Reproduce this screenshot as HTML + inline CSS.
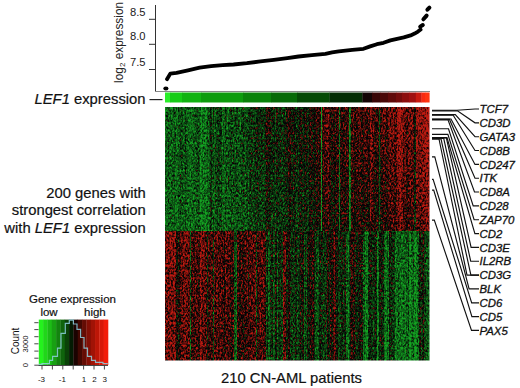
<!DOCTYPE html>
<html><head><meta charset="utf-8"><style>
html,body{margin:0;padding:0;background:#fff;width:520px;height:388px;overflow:hidden}
svg{display:block;font-family:"Liberation Sans",sans-serif}
</style></head><body>
<svg width="520" height="388" viewBox="0 0 520 388">
<defs>
<linearGradient id="gt" gradientUnits="userSpaceOnUse" x1="165" x2="429.5" y1="0" y2="0"><stop offset="0.0000" stop-color="rgb(49,49,0)"/><stop offset="0.0048" stop-color="rgb(49,49,0)"/><stop offset="0.0048" stop-color="rgb(65,65,0)"/><stop offset="0.0095" stop-color="rgb(65,65,0)"/><stop offset="0.0095" stop-color="rgb(72,72,0)"/><stop offset="0.0143" stop-color="rgb(72,72,0)"/><stop offset="0.0143" stop-color="rgb(56,56,0)"/><stop offset="0.0190" stop-color="rgb(56,56,0)"/><stop offset="0.0190" stop-color="rgb(48,48,0)"/><stop offset="0.0238" stop-color="rgb(48,48,0)"/><stop offset="0.0238" stop-color="rgb(61,61,0)"/><stop offset="0.0286" stop-color="rgb(61,61,0)"/><stop offset="0.0286" stop-color="rgb(67,67,0)"/><stop offset="0.0333" stop-color="rgb(67,67,0)"/><stop offset="0.0333" stop-color="rgb(73,73,0)"/><stop offset="0.0381" stop-color="rgb(73,73,0)"/><stop offset="0.0381" stop-color="rgb(50,50,0)"/><stop offset="0.0429" stop-color="rgb(50,50,0)"/><stop offset="0.0429" stop-color="rgb(49,49,0)"/><stop offset="0.0476" stop-color="rgb(49,49,0)"/><stop offset="0.0476" stop-color="rgb(69,69,0)"/><stop offset="0.0524" stop-color="rgb(69,69,0)"/><stop offset="0.0524" stop-color="rgb(67,67,0)"/><stop offset="0.0571" stop-color="rgb(67,67,0)"/><stop offset="0.0571" stop-color="rgb(78,78,0)"/><stop offset="0.0619" stop-color="rgb(78,78,0)"/><stop offset="0.0619" stop-color="rgb(72,72,0)"/><stop offset="0.0667" stop-color="rgb(72,72,0)"/><stop offset="0.0667" stop-color="rgb(61,61,0)"/><stop offset="0.0714" stop-color="rgb(61,61,0)"/><stop offset="0.0714" stop-color="rgb(60,60,0)"/><stop offset="0.0762" stop-color="rgb(60,60,0)"/><stop offset="0.0762" stop-color="rgb(89,89,0)"/><stop offset="0.0810" stop-color="rgb(89,89,0)"/><stop offset="0.0810" stop-color="rgb(60,60,0)"/><stop offset="0.0857" stop-color="rgb(60,60,0)"/><stop offset="0.0857" stop-color="rgb(55,55,0)"/><stop offset="0.0905" stop-color="rgb(55,55,0)"/><stop offset="0.0905" stop-color="rgb(51,51,0)"/><stop offset="0.1000" stop-color="rgb(51,51,0)"/><stop offset="0.1000" stop-color="rgb(52,52,0)"/><stop offset="0.1048" stop-color="rgb(52,52,0)"/><stop offset="0.1048" stop-color="rgb(60,60,0)"/><stop offset="0.1095" stop-color="rgb(60,60,0)"/><stop offset="0.1095" stop-color="rgb(63,63,0)"/><stop offset="0.1143" stop-color="rgb(63,63,0)"/><stop offset="0.1143" stop-color="rgb(66,66,0)"/><stop offset="0.1190" stop-color="rgb(66,66,0)"/><stop offset="0.1190" stop-color="rgb(71,71,0)"/><stop offset="0.1238" stop-color="rgb(71,71,0)"/><stop offset="0.1238" stop-color="rgb(75,75,0)"/><stop offset="0.1286" stop-color="rgb(75,75,0)"/><stop offset="0.1286" stop-color="rgb(66,66,0)"/><stop offset="0.1333" stop-color="rgb(66,66,0)"/><stop offset="0.1333" stop-color="rgb(33,33,0)"/><stop offset="0.1381" stop-color="rgb(33,33,0)"/><stop offset="0.1381" stop-color="rgb(59,59,0)"/><stop offset="0.1429" stop-color="rgb(59,59,0)"/><stop offset="0.1429" stop-color="rgb(37,37,0)"/><stop offset="0.1476" stop-color="rgb(37,37,0)"/><stop offset="0.1476" stop-color="rgb(50,50,0)"/><stop offset="0.1524" stop-color="rgb(50,50,0)"/><stop offset="0.1524" stop-color="rgb(37,37,0)"/><stop offset="0.1571" stop-color="rgb(37,37,0)"/><stop offset="0.1571" stop-color="rgb(65,65,0)"/><stop offset="0.1619" stop-color="rgb(65,65,0)"/><stop offset="0.1619" stop-color="rgb(58,58,0)"/><stop offset="0.1667" stop-color="rgb(58,58,0)"/><stop offset="0.1667" stop-color="rgb(68,68,0)"/><stop offset="0.1714" stop-color="rgb(68,68,0)"/><stop offset="0.1714" stop-color="rgb(100,100,0)"/><stop offset="0.1762" stop-color="rgb(100,100,0)"/><stop offset="0.1762" stop-color="rgb(66,66,0)"/><stop offset="0.1810" stop-color="rgb(66,66,0)"/><stop offset="0.1810" stop-color="rgb(75,75,0)"/><stop offset="0.1857" stop-color="rgb(75,75,0)"/><stop offset="0.1857" stop-color="rgb(54,54,0)"/><stop offset="0.1905" stop-color="rgb(54,54,0)"/><stop offset="0.1905" stop-color="rgb(84,84,0)"/><stop offset="0.1952" stop-color="rgb(84,84,0)"/><stop offset="0.1952" stop-color="rgb(93,93,0)"/><stop offset="0.2000" stop-color="rgb(93,93,0)"/><stop offset="0.2000" stop-color="rgb(86,86,0)"/><stop offset="0.2048" stop-color="rgb(86,86,0)"/><stop offset="0.2048" stop-color="rgb(91,91,0)"/><stop offset="0.2095" stop-color="rgb(91,91,0)"/><stop offset="0.2095" stop-color="rgb(89,89,0)"/><stop offset="0.2143" stop-color="rgb(89,89,0)"/><stop offset="0.2143" stop-color="rgb(48,48,0)"/><stop offset="0.2190" stop-color="rgb(48,48,0)"/><stop offset="0.2190" stop-color="rgb(65,65,0)"/><stop offset="0.2238" stop-color="rgb(65,65,0)"/><stop offset="0.2238" stop-color="rgb(51,51,0)"/><stop offset="0.2286" stop-color="rgb(51,51,0)"/><stop offset="0.2286" stop-color="rgb(78,78,0)"/><stop offset="0.2333" stop-color="rgb(78,78,0)"/><stop offset="0.2333" stop-color="rgb(54,54,0)"/><stop offset="0.2381" stop-color="rgb(54,54,0)"/><stop offset="0.2381" stop-color="rgb(77,77,0)"/><stop offset="0.2429" stop-color="rgb(77,77,0)"/><stop offset="0.2429" stop-color="rgb(70,70,0)"/><stop offset="0.2476" stop-color="rgb(70,70,0)"/><stop offset="0.2476" stop-color="rgb(80,80,0)"/><stop offset="0.2524" stop-color="rgb(80,80,0)"/><stop offset="0.2524" stop-color="rgb(65,65,0)"/><stop offset="0.2571" stop-color="rgb(65,65,0)"/><stop offset="0.2571" stop-color="rgb(81,81,0)"/><stop offset="0.2619" stop-color="rgb(81,81,0)"/><stop offset="0.2619" stop-color="rgb(70,70,0)"/><stop offset="0.2667" stop-color="rgb(70,70,0)"/><stop offset="0.2667" stop-color="rgb(85,85,0)"/><stop offset="0.2714" stop-color="rgb(85,85,0)"/><stop offset="0.2714" stop-color="rgb(78,78,0)"/><stop offset="0.2762" stop-color="rgb(78,78,0)"/><stop offset="0.2762" stop-color="rgb(74,74,0)"/><stop offset="0.2810" stop-color="rgb(74,74,0)"/><stop offset="0.2810" stop-color="rgb(65,65,0)"/><stop offset="0.2857" stop-color="rgb(65,65,0)"/><stop offset="0.2857" stop-color="rgb(81,81,0)"/><stop offset="0.2905" stop-color="rgb(81,81,0)"/><stop offset="0.2905" stop-color="rgb(79,79,0)"/><stop offset="0.2952" stop-color="rgb(79,79,0)"/><stop offset="0.2952" stop-color="rgb(92,92,0)"/><stop offset="0.3000" stop-color="rgb(92,92,0)"/><stop offset="0.3000" stop-color="rgb(72,72,0)"/><stop offset="0.3048" stop-color="rgb(72,72,0)"/><stop offset="0.3048" stop-color="rgb(83,83,0)"/><stop offset="0.3143" stop-color="rgb(83,83,0)"/><stop offset="0.3143" stop-color="rgb(82,82,0)"/><stop offset="0.3190" stop-color="rgb(82,82,0)"/><stop offset="0.3190" stop-color="rgb(97,97,0)"/><stop offset="0.3238" stop-color="rgb(97,97,0)"/><stop offset="0.3238" stop-color="rgb(98,98,0)"/><stop offset="0.3286" stop-color="rgb(98,98,0)"/><stop offset="0.3286" stop-color="rgb(91,91,0)"/><stop offset="0.3333" stop-color="rgb(91,91,0)"/><stop offset="0.3333" stop-color="rgb(87,87,0)"/><stop offset="0.3381" stop-color="rgb(87,87,0)"/><stop offset="0.3381" stop-color="rgb(94,94,0)"/><stop offset="0.3429" stop-color="rgb(94,94,0)"/><stop offset="0.3429" stop-color="rgb(105,105,0)"/><stop offset="0.3476" stop-color="rgb(105,105,0)"/><stop offset="0.3476" stop-color="rgb(116,116,0)"/><stop offset="0.3524" stop-color="rgb(116,116,0)"/><stop offset="0.3524" stop-color="rgb(96,96,0)"/><stop offset="0.3571" stop-color="rgb(96,96,0)"/><stop offset="0.3571" stop-color="rgb(98,98,0)"/><stop offset="0.3619" stop-color="rgb(98,98,0)"/><stop offset="0.3619" stop-color="rgb(96,96,0)"/><stop offset="0.3714" stop-color="rgb(96,96,0)"/><stop offset="0.3714" stop-color="rgb(91,91,0)"/><stop offset="0.3762" stop-color="rgb(91,91,0)"/><stop offset="0.3762" stop-color="rgb(98,98,0)"/><stop offset="0.3810" stop-color="rgb(98,98,0)"/><stop offset="0.3810" stop-color="rgb(147,147,0)"/><stop offset="0.3857" stop-color="rgb(147,147,0)"/><stop offset="0.3857" stop-color="rgb(127,127,0)"/><stop offset="0.3905" stop-color="rgb(127,127,0)"/><stop offset="0.3905" stop-color="rgb(124,124,0)"/><stop offset="0.3952" stop-color="rgb(124,124,0)"/><stop offset="0.3952" stop-color="rgb(114,114,0)"/><stop offset="0.4000" stop-color="rgb(114,114,0)"/><stop offset="0.4000" stop-color="rgb(97,97,0)"/><stop offset="0.4048" stop-color="rgb(97,97,0)"/><stop offset="0.4048" stop-color="rgb(105,105,0)"/><stop offset="0.4143" stop-color="rgb(105,105,0)"/><stop offset="0.4143" stop-color="rgb(85,85,0)"/><stop offset="0.4190" stop-color="rgb(85,85,0)"/><stop offset="0.4190" stop-color="rgb(123,123,0)"/><stop offset="0.4238" stop-color="rgb(123,123,0)"/><stop offset="0.4238" stop-color="rgb(117,117,0)"/><stop offset="0.4286" stop-color="rgb(117,117,0)"/><stop offset="0.4286" stop-color="rgb(101,101,0)"/><stop offset="0.4333" stop-color="rgb(101,101,0)"/><stop offset="0.4333" stop-color="rgb(108,108,0)"/><stop offset="0.4381" stop-color="rgb(108,108,0)"/><stop offset="0.4381" stop-color="rgb(103,103,0)"/><stop offset="0.4429" stop-color="rgb(103,103,0)"/><stop offset="0.4429" stop-color="rgb(93,93,0)"/><stop offset="0.4476" stop-color="rgb(93,93,0)"/><stop offset="0.4476" stop-color="rgb(102,102,0)"/><stop offset="0.4524" stop-color="rgb(102,102,0)"/><stop offset="0.4524" stop-color="rgb(108,108,0)"/><stop offset="0.4571" stop-color="rgb(108,108,0)"/><stop offset="0.4571" stop-color="rgb(116,116,0)"/><stop offset="0.4619" stop-color="rgb(116,116,0)"/><stop offset="0.4619" stop-color="rgb(113,113,0)"/><stop offset="0.4667" stop-color="rgb(113,113,0)"/><stop offset="0.4667" stop-color="rgb(139,139,0)"/><stop offset="0.4714" stop-color="rgb(139,139,0)"/><stop offset="0.4714" stop-color="rgb(153,153,0)"/><stop offset="0.4762" stop-color="rgb(153,153,0)"/><stop offset="0.4762" stop-color="rgb(101,101,0)"/><stop offset="0.4810" stop-color="rgb(101,101,0)"/><stop offset="0.4810" stop-color="rgb(118,118,0)"/><stop offset="0.4857" stop-color="rgb(118,118,0)"/><stop offset="0.4857" stop-color="rgb(122,122,0)"/><stop offset="0.4905" stop-color="rgb(122,122,0)"/><stop offset="0.4905" stop-color="rgb(109,109,0)"/><stop offset="0.4952" stop-color="rgb(109,109,0)"/><stop offset="0.4952" stop-color="rgb(94,94,0)"/><stop offset="0.5000" stop-color="rgb(94,94,0)"/><stop offset="0.5000" stop-color="rgb(105,105,0)"/><stop offset="0.5048" stop-color="rgb(105,105,0)"/><stop offset="0.5048" stop-color="rgb(117,117,0)"/><stop offset="0.5095" stop-color="rgb(117,117,0)"/><stop offset="0.5095" stop-color="rgb(121,121,0)"/><stop offset="0.5143" stop-color="rgb(121,121,0)"/><stop offset="0.5143" stop-color="rgb(133,133,0)"/><stop offset="0.5190" stop-color="rgb(133,133,0)"/><stop offset="0.5190" stop-color="rgb(108,108,0)"/><stop offset="0.5238" stop-color="rgb(108,108,0)"/><stop offset="0.5238" stop-color="rgb(119,119,0)"/><stop offset="0.5286" stop-color="rgb(119,119,0)"/><stop offset="0.5286" stop-color="rgb(127,127,0)"/><stop offset="0.5333" stop-color="rgb(127,127,0)"/><stop offset="0.5333" stop-color="rgb(120,120,0)"/><stop offset="0.5381" stop-color="rgb(120,120,0)"/><stop offset="0.5381" stop-color="rgb(99,99,0)"/><stop offset="0.5429" stop-color="rgb(99,99,0)"/><stop offset="0.5429" stop-color="rgb(133,133,0)"/><stop offset="0.5476" stop-color="rgb(133,133,0)"/><stop offset="0.5476" stop-color="rgb(150,150,0)"/><stop offset="0.5524" stop-color="rgb(150,150,0)"/><stop offset="0.5524" stop-color="rgb(138,138,0)"/><stop offset="0.5571" stop-color="rgb(138,138,0)"/><stop offset="0.5571" stop-color="rgb(120,120,0)"/><stop offset="0.5619" stop-color="rgb(120,120,0)"/><stop offset="0.5619" stop-color="rgb(127,127,0)"/><stop offset="0.5667" stop-color="rgb(127,127,0)"/><stop offset="0.5667" stop-color="rgb(135,135,0)"/><stop offset="0.5714" stop-color="rgb(135,135,0)"/><stop offset="0.5714" stop-color="rgb(159,159,0)"/><stop offset="0.5762" stop-color="rgb(159,159,0)"/><stop offset="0.5762" stop-color="rgb(142,142,0)"/><stop offset="0.5810" stop-color="rgb(142,142,0)"/><stop offset="0.5810" stop-color="rgb(138,138,0)"/><stop offset="0.5857" stop-color="rgb(138,138,0)"/><stop offset="0.5857" stop-color="rgb(154,154,0)"/><stop offset="0.5905" stop-color="rgb(154,154,0)"/><stop offset="0.5905" stop-color="rgb(11,11,0)"/><stop offset="0.5952" stop-color="rgb(11,11,0)"/><stop offset="0.5952" stop-color="rgb(159,159,0)"/><stop offset="0.6048" stop-color="rgb(159,159,0)"/><stop offset="0.6048" stop-color="rgb(162,162,0)"/><stop offset="0.6095" stop-color="rgb(162,162,0)"/><stop offset="0.6095" stop-color="rgb(175,175,0)"/><stop offset="0.6143" stop-color="rgb(175,175,0)"/><stop offset="0.6143" stop-color="rgb(183,183,0)"/><stop offset="0.6190" stop-color="rgb(183,183,0)"/><stop offset="0.6190" stop-color="rgb(150,150,0)"/><stop offset="0.6238" stop-color="rgb(150,150,0)"/><stop offset="0.6238" stop-color="rgb(148,148,0)"/><stop offset="0.6286" stop-color="rgb(148,148,0)"/><stop offset="0.6286" stop-color="rgb(127,127,0)"/><stop offset="0.6333" stop-color="rgb(127,127,0)"/><stop offset="0.6333" stop-color="rgb(139,139,0)"/><stop offset="0.6381" stop-color="rgb(139,139,0)"/><stop offset="0.6381" stop-color="rgb(141,141,0)"/><stop offset="0.6429" stop-color="rgb(141,141,0)"/><stop offset="0.6429" stop-color="rgb(142,142,0)"/><stop offset="0.6476" stop-color="rgb(142,142,0)"/><stop offset="0.6476" stop-color="rgb(154,154,0)"/><stop offset="0.6524" stop-color="rgb(154,154,0)"/><stop offset="0.6524" stop-color="rgb(146,146,0)"/><stop offset="0.6571" stop-color="rgb(146,146,0)"/><stop offset="0.6571" stop-color="rgb(47,47,0)"/><stop offset="0.6619" stop-color="rgb(47,47,0)"/><stop offset="0.6619" stop-color="rgb(151,151,0)"/><stop offset="0.6667" stop-color="rgb(151,151,0)"/><stop offset="0.6667" stop-color="rgb(148,148,0)"/><stop offset="0.6714" stop-color="rgb(148,148,0)"/><stop offset="0.6714" stop-color="rgb(153,153,0)"/><stop offset="0.6762" stop-color="rgb(153,153,0)"/><stop offset="0.6762" stop-color="rgb(156,156,0)"/><stop offset="0.6810" stop-color="rgb(156,156,0)"/><stop offset="0.6810" stop-color="rgb(161,161,0)"/><stop offset="0.6857" stop-color="rgb(161,161,0)"/><stop offset="0.6857" stop-color="rgb(148,148,0)"/><stop offset="0.6905" stop-color="rgb(148,148,0)"/><stop offset="0.6905" stop-color="rgb(151,151,0)"/><stop offset="0.6952" stop-color="rgb(151,151,0)"/><stop offset="0.6952" stop-color="rgb(28,28,0)"/><stop offset="0.7000" stop-color="rgb(28,28,0)"/><stop offset="0.7000" stop-color="rgb(59,59,0)"/><stop offset="0.7048" stop-color="rgb(59,59,0)"/><stop offset="0.7048" stop-color="rgb(169,169,0)"/><stop offset="0.7095" stop-color="rgb(169,169,0)"/><stop offset="0.7095" stop-color="rgb(153,153,0)"/><stop offset="0.7143" stop-color="rgb(153,153,0)"/><stop offset="0.7143" stop-color="rgb(150,150,0)"/><stop offset="0.7190" stop-color="rgb(150,150,0)"/><stop offset="0.7190" stop-color="rgb(143,143,0)"/><stop offset="0.7238" stop-color="rgb(143,143,0)"/><stop offset="0.7238" stop-color="rgb(157,157,0)"/><stop offset="0.7286" stop-color="rgb(157,157,0)"/><stop offset="0.7286" stop-color="rgb(158,158,0)"/><stop offset="0.7333" stop-color="rgb(158,158,0)"/><stop offset="0.7333" stop-color="rgb(179,179,0)"/><stop offset="0.7381" stop-color="rgb(179,179,0)"/><stop offset="0.7381" stop-color="rgb(159,159,0)"/><stop offset="0.7429" stop-color="rgb(159,159,0)"/><stop offset="0.7429" stop-color="rgb(149,149,0)"/><stop offset="0.7476" stop-color="rgb(149,149,0)"/><stop offset="0.7476" stop-color="rgb(132,132,0)"/><stop offset="0.7524" stop-color="rgb(132,132,0)"/><stop offset="0.7524" stop-color="rgb(172,172,0)"/><stop offset="0.7571" stop-color="rgb(172,172,0)"/><stop offset="0.7571" stop-color="rgb(160,160,0)"/><stop offset="0.7619" stop-color="rgb(160,160,0)"/><stop offset="0.7619" stop-color="rgb(142,142,0)"/><stop offset="0.7667" stop-color="rgb(142,142,0)"/><stop offset="0.7667" stop-color="rgb(161,161,0)"/><stop offset="0.7714" stop-color="rgb(161,161,0)"/><stop offset="0.7714" stop-color="rgb(143,143,0)"/><stop offset="0.7762" stop-color="rgb(143,143,0)"/><stop offset="0.7762" stop-color="rgb(195,195,0)"/><stop offset="0.7810" stop-color="rgb(195,195,0)"/><stop offset="0.7810" stop-color="rgb(172,172,0)"/><stop offset="0.7857" stop-color="rgb(172,172,0)"/><stop offset="0.7857" stop-color="rgb(167,167,0)"/><stop offset="0.7905" stop-color="rgb(167,167,0)"/><stop offset="0.7905" stop-color="rgb(160,160,0)"/><stop offset="0.7952" stop-color="rgb(160,160,0)"/><stop offset="0.7952" stop-color="rgb(140,140,0)"/><stop offset="0.8000" stop-color="rgb(140,140,0)"/><stop offset="0.8000" stop-color="rgb(161,161,0)"/><stop offset="0.8048" stop-color="rgb(161,161,0)"/><stop offset="0.8048" stop-color="rgb(147,147,0)"/><stop offset="0.8095" stop-color="rgb(147,147,0)"/><stop offset="0.8095" stop-color="rgb(74,74,0)"/><stop offset="0.8143" stop-color="rgb(74,74,0)"/><stop offset="0.8143" stop-color="rgb(142,142,0)"/><stop offset="0.8190" stop-color="rgb(142,142,0)"/><stop offset="0.8190" stop-color="rgb(156,156,0)"/><stop offset="0.8238" stop-color="rgb(156,156,0)"/><stop offset="0.8238" stop-color="rgb(178,178,0)"/><stop offset="0.8286" stop-color="rgb(178,178,0)"/><stop offset="0.8286" stop-color="rgb(183,183,0)"/><stop offset="0.8333" stop-color="rgb(183,183,0)"/><stop offset="0.8333" stop-color="rgb(154,154,0)"/><stop offset="0.8381" stop-color="rgb(154,154,0)"/><stop offset="0.8381" stop-color="rgb(151,151,0)"/><stop offset="0.8429" stop-color="rgb(151,151,0)"/><stop offset="0.8429" stop-color="rgb(177,177,0)"/><stop offset="0.8476" stop-color="rgb(177,177,0)"/><stop offset="0.8476" stop-color="rgb(196,196,0)"/><stop offset="0.8524" stop-color="rgb(196,196,0)"/><stop offset="0.8524" stop-color="rgb(179,179,0)"/><stop offset="0.8571" stop-color="rgb(179,179,0)"/><stop offset="0.8571" stop-color="rgb(184,184,0)"/><stop offset="0.8619" stop-color="rgb(184,184,0)"/><stop offset="0.8619" stop-color="rgb(186,186,0)"/><stop offset="0.8667" stop-color="rgb(186,186,0)"/><stop offset="0.8667" stop-color="rgb(164,164,0)"/><stop offset="0.8714" stop-color="rgb(164,164,0)"/><stop offset="0.8714" stop-color="rgb(172,172,0)"/><stop offset="0.8762" stop-color="rgb(172,172,0)"/><stop offset="0.8762" stop-color="rgb(219,219,0)"/><stop offset="0.8810" stop-color="rgb(219,219,0)"/><stop offset="0.8810" stop-color="rgb(215,215,0)"/><stop offset="0.8857" stop-color="rgb(215,215,0)"/><stop offset="0.8857" stop-color="rgb(231,231,0)"/><stop offset="0.8905" stop-color="rgb(231,231,0)"/><stop offset="0.8905" stop-color="rgb(211,211,0)"/><stop offset="0.9000" stop-color="rgb(211,211,0)"/><stop offset="0.9000" stop-color="rgb(178,178,0)"/><stop offset="0.9048" stop-color="rgb(178,178,0)"/><stop offset="0.9048" stop-color="rgb(188,188,0)"/><stop offset="0.9095" stop-color="rgb(188,188,0)"/><stop offset="0.9095" stop-color="rgb(158,158,0)"/><stop offset="0.9143" stop-color="rgb(158,158,0)"/><stop offset="0.9143" stop-color="rgb(155,155,0)"/><stop offset="0.9190" stop-color="rgb(155,155,0)"/><stop offset="0.9190" stop-color="rgb(181,181,0)"/><stop offset="0.9238" stop-color="rgb(181,181,0)"/><stop offset="0.9238" stop-color="rgb(190,190,0)"/><stop offset="0.9286" stop-color="rgb(190,190,0)"/><stop offset="0.9286" stop-color="rgb(185,185,0)"/><stop offset="0.9333" stop-color="rgb(185,185,0)"/><stop offset="0.9333" stop-color="rgb(191,191,0)"/><stop offset="0.9381" stop-color="rgb(191,191,0)"/><stop offset="0.9381" stop-color="rgb(181,181,0)"/><stop offset="0.9429" stop-color="rgb(181,181,0)"/><stop offset="0.9429" stop-color="rgb(113,113,0)"/><stop offset="0.9476" stop-color="rgb(113,113,0)"/><stop offset="0.9476" stop-color="rgb(214,214,0)"/><stop offset="0.9524" stop-color="rgb(214,214,0)"/><stop offset="0.9524" stop-color="rgb(211,211,0)"/><stop offset="0.9571" stop-color="rgb(211,211,0)"/><stop offset="0.9571" stop-color="rgb(204,204,0)"/><stop offset="0.9619" stop-color="rgb(204,204,0)"/><stop offset="0.9619" stop-color="rgb(200,200,0)"/><stop offset="0.9667" stop-color="rgb(200,200,0)"/><stop offset="0.9667" stop-color="rgb(203,203,0)"/><stop offset="0.9714" stop-color="rgb(203,203,0)"/><stop offset="0.9714" stop-color="rgb(219,219,0)"/><stop offset="0.9762" stop-color="rgb(219,219,0)"/><stop offset="0.9762" stop-color="rgb(222,222,0)"/><stop offset="0.9810" stop-color="rgb(222,222,0)"/><stop offset="0.9810" stop-color="rgb(217,217,0)"/><stop offset="0.9857" stop-color="rgb(217,217,0)"/><stop offset="0.9857" stop-color="rgb(238,238,0)"/><stop offset="0.9905" stop-color="rgb(238,238,0)"/><stop offset="0.9905" stop-color="rgb(227,227,0)"/><stop offset="0.9952" stop-color="rgb(227,227,0)"/><stop offset="0.9952" stop-color="rgb(232,232,0)"/><stop offset="1" stop-color="rgb(232,232,0)"/></linearGradient>
<linearGradient id="gb" gradientUnits="userSpaceOnUse" x1="165" x2="429.5" y1="0" y2="0"><stop offset="0.0000" stop-color="rgb(182,182,0)"/><stop offset="0.0048" stop-color="rgb(182,182,0)"/><stop offset="0.0048" stop-color="rgb(207,207,0)"/><stop offset="0.0095" stop-color="rgb(207,207,0)"/><stop offset="0.0095" stop-color="rgb(199,199,0)"/><stop offset="0.0143" stop-color="rgb(199,199,0)"/><stop offset="0.0143" stop-color="rgb(196,196,0)"/><stop offset="0.0190" stop-color="rgb(196,196,0)"/><stop offset="0.0190" stop-color="rgb(218,218,0)"/><stop offset="0.0238" stop-color="rgb(218,218,0)"/><stop offset="0.0238" stop-color="rgb(203,203,0)"/><stop offset="0.0286" stop-color="rgb(203,203,0)"/><stop offset="0.0286" stop-color="rgb(198,198,0)"/><stop offset="0.0333" stop-color="rgb(198,198,0)"/><stop offset="0.0333" stop-color="rgb(230,230,0)"/><stop offset="0.0381" stop-color="rgb(230,230,0)"/><stop offset="0.0381" stop-color="rgb(194,194,0)"/><stop offset="0.0429" stop-color="rgb(194,194,0)"/><stop offset="0.0429" stop-color="rgb(131,131,0)"/><stop offset="0.0476" stop-color="rgb(131,131,0)"/><stop offset="0.0476" stop-color="rgb(129,129,0)"/><stop offset="0.0524" stop-color="rgb(129,129,0)"/><stop offset="0.0524" stop-color="rgb(142,142,0)"/><stop offset="0.0571" stop-color="rgb(142,142,0)"/><stop offset="0.0571" stop-color="rgb(160,160,0)"/><stop offset="0.0619" stop-color="rgb(160,160,0)"/><stop offset="0.0619" stop-color="rgb(188,188,0)"/><stop offset="0.0667" stop-color="rgb(188,188,0)"/><stop offset="0.0667" stop-color="rgb(192,192,0)"/><stop offset="0.0714" stop-color="rgb(192,192,0)"/><stop offset="0.0714" stop-color="rgb(203,203,0)"/><stop offset="0.0762" stop-color="rgb(203,203,0)"/><stop offset="0.0762" stop-color="rgb(200,200,0)"/><stop offset="0.0810" stop-color="rgb(200,200,0)"/><stop offset="0.0810" stop-color="rgb(184,184,0)"/><stop offset="0.0857" stop-color="rgb(184,184,0)"/><stop offset="0.0857" stop-color="rgb(194,194,0)"/><stop offset="0.0905" stop-color="rgb(194,194,0)"/><stop offset="0.0905" stop-color="rgb(184,184,0)"/><stop offset="0.0952" stop-color="rgb(184,184,0)"/><stop offset="0.0952" stop-color="rgb(50,50,0)"/><stop offset="0.1000" stop-color="rgb(50,50,0)"/><stop offset="0.1000" stop-color="rgb(173,173,0)"/><stop offset="0.1048" stop-color="rgb(173,173,0)"/><stop offset="0.1048" stop-color="rgb(161,161,0)"/><stop offset="0.1095" stop-color="rgb(161,161,0)"/><stop offset="0.1095" stop-color="rgb(157,157,0)"/><stop offset="0.1143" stop-color="rgb(157,157,0)"/><stop offset="0.1143" stop-color="rgb(191,191,0)"/><stop offset="0.1190" stop-color="rgb(191,191,0)"/><stop offset="0.1190" stop-color="rgb(171,171,0)"/><stop offset="0.1238" stop-color="rgb(171,171,0)"/><stop offset="0.1238" stop-color="rgb(152,152,0)"/><stop offset="0.1286" stop-color="rgb(152,152,0)"/><stop offset="0.1286" stop-color="rgb(158,158,0)"/><stop offset="0.1333" stop-color="rgb(158,158,0)"/><stop offset="0.1333" stop-color="rgb(220,220,0)"/><stop offset="0.1381" stop-color="rgb(220,220,0)"/><stop offset="0.1381" stop-color="rgb(180,180,0)"/><stop offset="0.1429" stop-color="rgb(180,180,0)"/><stop offset="0.1429" stop-color="rgb(195,195,0)"/><stop offset="0.1476" stop-color="rgb(195,195,0)"/><stop offset="0.1476" stop-color="rgb(193,193,0)"/><stop offset="0.1524" stop-color="rgb(193,193,0)"/><stop offset="0.1524" stop-color="rgb(179,179,0)"/><stop offset="0.1571" stop-color="rgb(179,179,0)"/><stop offset="0.1571" stop-color="rgb(101,101,0)"/><stop offset="0.1619" stop-color="rgb(101,101,0)"/><stop offset="0.1619" stop-color="rgb(163,163,0)"/><stop offset="0.1714" stop-color="rgb(163,163,0)"/><stop offset="0.1714" stop-color="rgb(168,168,0)"/><stop offset="0.1762" stop-color="rgb(168,168,0)"/><stop offset="0.1762" stop-color="rgb(165,165,0)"/><stop offset="0.1810" stop-color="rgb(165,165,0)"/><stop offset="0.1810" stop-color="rgb(80,80,0)"/><stop offset="0.1857" stop-color="rgb(80,80,0)"/><stop offset="0.1857" stop-color="rgb(194,194,0)"/><stop offset="0.1905" stop-color="rgb(194,194,0)"/><stop offset="0.1905" stop-color="rgb(169,169,0)"/><stop offset="0.1952" stop-color="rgb(169,169,0)"/><stop offset="0.1952" stop-color="rgb(191,191,0)"/><stop offset="0.2000" stop-color="rgb(191,191,0)"/><stop offset="0.2000" stop-color="rgb(167,167,0)"/><stop offset="0.2048" stop-color="rgb(167,167,0)"/><stop offset="0.2048" stop-color="rgb(171,171,0)"/><stop offset="0.2095" stop-color="rgb(171,171,0)"/><stop offset="0.2095" stop-color="rgb(178,178,0)"/><stop offset="0.2143" stop-color="rgb(178,178,0)"/><stop offset="0.2143" stop-color="rgb(171,171,0)"/><stop offset="0.2190" stop-color="rgb(171,171,0)"/><stop offset="0.2190" stop-color="rgb(162,162,0)"/><stop offset="0.2238" stop-color="rgb(162,162,0)"/><stop offset="0.2238" stop-color="rgb(128,128,0)"/><stop offset="0.2286" stop-color="rgb(128,128,0)"/><stop offset="0.2286" stop-color="rgb(190,190,0)"/><stop offset="0.2333" stop-color="rgb(190,190,0)"/><stop offset="0.2333" stop-color="rgb(164,164,0)"/><stop offset="0.2381" stop-color="rgb(164,164,0)"/><stop offset="0.2381" stop-color="rgb(158,158,0)"/><stop offset="0.2429" stop-color="rgb(158,158,0)"/><stop offset="0.2429" stop-color="rgb(178,178,0)"/><stop offset="0.2476" stop-color="rgb(178,178,0)"/><stop offset="0.2476" stop-color="rgb(158,158,0)"/><stop offset="0.2524" stop-color="rgb(158,158,0)"/><stop offset="0.2524" stop-color="rgb(145,145,0)"/><stop offset="0.2571" stop-color="rgb(145,145,0)"/><stop offset="0.2571" stop-color="rgb(175,175,0)"/><stop offset="0.2619" stop-color="rgb(175,175,0)"/><stop offset="0.2619" stop-color="rgb(65,65,0)"/><stop offset="0.2667" stop-color="rgb(65,65,0)"/><stop offset="0.2667" stop-color="rgb(46,46,0)"/><stop offset="0.2714" stop-color="rgb(46,46,0)"/><stop offset="0.2714" stop-color="rgb(167,167,0)"/><stop offset="0.2762" stop-color="rgb(167,167,0)"/><stop offset="0.2762" stop-color="rgb(160,160,0)"/><stop offset="0.2810" stop-color="rgb(160,160,0)"/><stop offset="0.2810" stop-color="rgb(136,136,0)"/><stop offset="0.2857" stop-color="rgb(136,136,0)"/><stop offset="0.2857" stop-color="rgb(181,181,0)"/><stop offset="0.2905" stop-color="rgb(181,181,0)"/><stop offset="0.2905" stop-color="rgb(157,157,0)"/><stop offset="0.2952" stop-color="rgb(157,157,0)"/><stop offset="0.2952" stop-color="rgb(135,135,0)"/><stop offset="0.3000" stop-color="rgb(135,135,0)"/><stop offset="0.3000" stop-color="rgb(160,160,0)"/><stop offset="0.3048" stop-color="rgb(160,160,0)"/><stop offset="0.3048" stop-color="rgb(154,154,0)"/><stop offset="0.3095" stop-color="rgb(154,154,0)"/><stop offset="0.3095" stop-color="rgb(180,180,0)"/><stop offset="0.3143" stop-color="rgb(180,180,0)"/><stop offset="0.3143" stop-color="rgb(144,144,0)"/><stop offset="0.3190" stop-color="rgb(144,144,0)"/><stop offset="0.3190" stop-color="rgb(180,180,0)"/><stop offset="0.3238" stop-color="rgb(180,180,0)"/><stop offset="0.3238" stop-color="rgb(179,179,0)"/><stop offset="0.3286" stop-color="rgb(179,179,0)"/><stop offset="0.3286" stop-color="rgb(174,174,0)"/><stop offset="0.3333" stop-color="rgb(174,174,0)"/><stop offset="0.3333" stop-color="rgb(173,173,0)"/><stop offset="0.3381" stop-color="rgb(173,173,0)"/><stop offset="0.3381" stop-color="rgb(183,183,0)"/><stop offset="0.3429" stop-color="rgb(183,183,0)"/><stop offset="0.3429" stop-color="rgb(78,78,0)"/><stop offset="0.3476" stop-color="rgb(78,78,0)"/><stop offset="0.3476" stop-color="rgb(165,165,0)"/><stop offset="0.3524" stop-color="rgb(165,165,0)"/><stop offset="0.3524" stop-color="rgb(149,149,0)"/><stop offset="0.3571" stop-color="rgb(149,149,0)"/><stop offset="0.3571" stop-color="rgb(179,179,0)"/><stop offset="0.3619" stop-color="rgb(179,179,0)"/><stop offset="0.3619" stop-color="rgb(177,177,0)"/><stop offset="0.3667" stop-color="rgb(177,177,0)"/><stop offset="0.3667" stop-color="rgb(182,182,0)"/><stop offset="0.3714" stop-color="rgb(182,182,0)"/><stop offset="0.3714" stop-color="rgb(174,174,0)"/><stop offset="0.3762" stop-color="rgb(174,174,0)"/><stop offset="0.3762" stop-color="rgb(157,157,0)"/><stop offset="0.3810" stop-color="rgb(157,157,0)"/><stop offset="0.3810" stop-color="rgb(69,69,0)"/><stop offset="0.3857" stop-color="rgb(69,69,0)"/><stop offset="0.3857" stop-color="rgb(107,107,0)"/><stop offset="0.3905" stop-color="rgb(107,107,0)"/><stop offset="0.3905" stop-color="rgb(57,57,0)"/><stop offset="0.3952" stop-color="rgb(57,57,0)"/><stop offset="0.3952" stop-color="rgb(93,93,0)"/><stop offset="0.4000" stop-color="rgb(93,93,0)"/><stop offset="0.4000" stop-color="rgb(101,101,0)"/><stop offset="0.4048" stop-color="rgb(101,101,0)"/><stop offset="0.4048" stop-color="rgb(109,109,0)"/><stop offset="0.4095" stop-color="rgb(109,109,0)"/><stop offset="0.4095" stop-color="rgb(67,67,0)"/><stop offset="0.4143" stop-color="rgb(67,67,0)"/><stop offset="0.4143" stop-color="rgb(133,133,0)"/><stop offset="0.4190" stop-color="rgb(133,133,0)"/><stop offset="0.4190" stop-color="rgb(121,121,0)"/><stop offset="0.4238" stop-color="rgb(121,121,0)"/><stop offset="0.4238" stop-color="rgb(57,57,0)"/><stop offset="0.4286" stop-color="rgb(57,57,0)"/><stop offset="0.4286" stop-color="rgb(102,102,0)"/><stop offset="0.4333" stop-color="rgb(102,102,0)"/><stop offset="0.4333" stop-color="rgb(90,90,0)"/><stop offset="0.4381" stop-color="rgb(90,90,0)"/><stop offset="0.4381" stop-color="rgb(92,92,0)"/><stop offset="0.4429" stop-color="rgb(92,92,0)"/><stop offset="0.4429" stop-color="rgb(77,77,0)"/><stop offset="0.4476" stop-color="rgb(77,77,0)"/><stop offset="0.4476" stop-color="rgb(187,187,0)"/><stop offset="0.4524" stop-color="rgb(187,187,0)"/><stop offset="0.4524" stop-color="rgb(189,189,0)"/><stop offset="0.4571" stop-color="rgb(189,189,0)"/><stop offset="0.4571" stop-color="rgb(112,112,0)"/><stop offset="0.4619" stop-color="rgb(112,112,0)"/><stop offset="0.4619" stop-color="rgb(97,97,0)"/><stop offset="0.4667" stop-color="rgb(97,97,0)"/><stop offset="0.4667" stop-color="rgb(147,147,0)"/><stop offset="0.4714" stop-color="rgb(147,147,0)"/><stop offset="0.4714" stop-color="rgb(87,87,0)"/><stop offset="0.4762" stop-color="rgb(87,87,0)"/><stop offset="0.4762" stop-color="rgb(90,90,0)"/><stop offset="0.4810" stop-color="rgb(90,90,0)"/><stop offset="0.4810" stop-color="rgb(93,93,0)"/><stop offset="0.4857" stop-color="rgb(93,93,0)"/><stop offset="0.4857" stop-color="rgb(82,82,0)"/><stop offset="0.4905" stop-color="rgb(82,82,0)"/><stop offset="0.4905" stop-color="rgb(118,118,0)"/><stop offset="0.4952" stop-color="rgb(118,118,0)"/><stop offset="0.4952" stop-color="rgb(105,105,0)"/><stop offset="0.5000" stop-color="rgb(105,105,0)"/><stop offset="0.5000" stop-color="rgb(76,76,0)"/><stop offset="0.5048" stop-color="rgb(76,76,0)"/><stop offset="0.5048" stop-color="rgb(98,98,0)"/><stop offset="0.5095" stop-color="rgb(98,98,0)"/><stop offset="0.5095" stop-color="rgb(140,140,0)"/><stop offset="0.5143" stop-color="rgb(140,140,0)"/><stop offset="0.5143" stop-color="rgb(100,100,0)"/><stop offset="0.5190" stop-color="rgb(100,100,0)"/><stop offset="0.5190" stop-color="rgb(125,125,0)"/><stop offset="0.5238" stop-color="rgb(125,125,0)"/><stop offset="0.5238" stop-color="rgb(55,55,0)"/><stop offset="0.5286" stop-color="rgb(55,55,0)"/><stop offset="0.5286" stop-color="rgb(95,95,0)"/><stop offset="0.5333" stop-color="rgb(95,95,0)"/><stop offset="0.5333" stop-color="rgb(65,65,0)"/><stop offset="0.5381" stop-color="rgb(65,65,0)"/><stop offset="0.5381" stop-color="rgb(117,117,0)"/><stop offset="0.5429" stop-color="rgb(117,117,0)"/><stop offset="0.5429" stop-color="rgb(114,114,0)"/><stop offset="0.5476" stop-color="rgb(114,114,0)"/><stop offset="0.5476" stop-color="rgb(153,153,0)"/><stop offset="0.5524" stop-color="rgb(153,153,0)"/><stop offset="0.5524" stop-color="rgb(116,116,0)"/><stop offset="0.5571" stop-color="rgb(116,116,0)"/><stop offset="0.5571" stop-color="rgb(159,159,0)"/><stop offset="0.5619" stop-color="rgb(159,159,0)"/><stop offset="0.5619" stop-color="rgb(99,99,0)"/><stop offset="0.5667" stop-color="rgb(99,99,0)"/><stop offset="0.5667" stop-color="rgb(70,70,0)"/><stop offset="0.5714" stop-color="rgb(70,70,0)"/><stop offset="0.5714" stop-color="rgb(69,69,0)"/><stop offset="0.5762" stop-color="rgb(69,69,0)"/><stop offset="0.5762" stop-color="rgb(62,62,0)"/><stop offset="0.5810" stop-color="rgb(62,62,0)"/><stop offset="0.5810" stop-color="rgb(108,108,0)"/><stop offset="0.5857" stop-color="rgb(108,108,0)"/><stop offset="0.5857" stop-color="rgb(122,122,0)"/><stop offset="0.5905" stop-color="rgb(122,122,0)"/><stop offset="0.5905" stop-color="rgb(102,102,0)"/><stop offset="0.5952" stop-color="rgb(102,102,0)"/><stop offset="0.5952" stop-color="rgb(90,90,0)"/><stop offset="0.6000" stop-color="rgb(90,90,0)"/><stop offset="0.6000" stop-color="rgb(88,88,0)"/><stop offset="0.6048" stop-color="rgb(88,88,0)"/><stop offset="0.6048" stop-color="rgb(91,91,0)"/><stop offset="0.6095" stop-color="rgb(91,91,0)"/><stop offset="0.6095" stop-color="rgb(89,89,0)"/><stop offset="0.6143" stop-color="rgb(89,89,0)"/><stop offset="0.6143" stop-color="rgb(143,143,0)"/><stop offset="0.6190" stop-color="rgb(143,143,0)"/><stop offset="0.6190" stop-color="rgb(98,98,0)"/><stop offset="0.6238" stop-color="rgb(98,98,0)"/><stop offset="0.6238" stop-color="rgb(154,154,0)"/><stop offset="0.6286" stop-color="rgb(154,154,0)"/><stop offset="0.6286" stop-color="rgb(117,117,0)"/><stop offset="0.6333" stop-color="rgb(117,117,0)"/><stop offset="0.6333" stop-color="rgb(161,161,0)"/><stop offset="0.6381" stop-color="rgb(161,161,0)"/><stop offset="0.6381" stop-color="rgb(202,202,0)"/><stop offset="0.6429" stop-color="rgb(202,202,0)"/><stop offset="0.6429" stop-color="rgb(149,149,0)"/><stop offset="0.6476" stop-color="rgb(149,149,0)"/><stop offset="0.6476" stop-color="rgb(111,111,0)"/><stop offset="0.6524" stop-color="rgb(111,111,0)"/><stop offset="0.6524" stop-color="rgb(94,94,0)"/><stop offset="0.6571" stop-color="rgb(94,94,0)"/><stop offset="0.6571" stop-color="rgb(81,81,0)"/><stop offset="0.6619" stop-color="rgb(81,81,0)"/><stop offset="0.6619" stop-color="rgb(91,91,0)"/><stop offset="0.6667" stop-color="rgb(91,91,0)"/><stop offset="0.6667" stop-color="rgb(113,113,0)"/><stop offset="0.6714" stop-color="rgb(113,113,0)"/><stop offset="0.6714" stop-color="rgb(88,88,0)"/><stop offset="0.6762" stop-color="rgb(88,88,0)"/><stop offset="0.6762" stop-color="rgb(99,99,0)"/><stop offset="0.6810" stop-color="rgb(99,99,0)"/><stop offset="0.6810" stop-color="rgb(119,119,0)"/><stop offset="0.6857" stop-color="rgb(119,119,0)"/><stop offset="0.6857" stop-color="rgb(54,54,0)"/><stop offset="0.6905" stop-color="rgb(54,54,0)"/><stop offset="0.6905" stop-color="rgb(35,35,0)"/><stop offset="0.6952" stop-color="rgb(35,35,0)"/><stop offset="0.6952" stop-color="rgb(79,79,0)"/><stop offset="0.7000" stop-color="rgb(79,79,0)"/><stop offset="0.7000" stop-color="rgb(133,133,0)"/><stop offset="0.7048" stop-color="rgb(133,133,0)"/><stop offset="0.7048" stop-color="rgb(153,153,0)"/><stop offset="0.7095" stop-color="rgb(153,153,0)"/><stop offset="0.7095" stop-color="rgb(114,114,0)"/><stop offset="0.7143" stop-color="rgb(114,114,0)"/><stop offset="0.7143" stop-color="rgb(156,156,0)"/><stop offset="0.7190" stop-color="rgb(156,156,0)"/><stop offset="0.7190" stop-color="rgb(109,109,0)"/><stop offset="0.7238" stop-color="rgb(109,109,0)"/><stop offset="0.7238" stop-color="rgb(102,102,0)"/><stop offset="0.7286" stop-color="rgb(102,102,0)"/><stop offset="0.7286" stop-color="rgb(122,122,0)"/><stop offset="0.7333" stop-color="rgb(122,122,0)"/><stop offset="0.7333" stop-color="rgb(123,123,0)"/><stop offset="0.7381" stop-color="rgb(123,123,0)"/><stop offset="0.7381" stop-color="rgb(132,132,0)"/><stop offset="0.7429" stop-color="rgb(132,132,0)"/><stop offset="0.7429" stop-color="rgb(118,118,0)"/><stop offset="0.7476" stop-color="rgb(118,118,0)"/><stop offset="0.7476" stop-color="rgb(53,53,0)"/><stop offset="0.7524" stop-color="rgb(53,53,0)"/><stop offset="0.7524" stop-color="rgb(64,64,0)"/><stop offset="0.7571" stop-color="rgb(64,64,0)"/><stop offset="0.7571" stop-color="rgb(32,32,0)"/><stop offset="0.7619" stop-color="rgb(32,32,0)"/><stop offset="0.7619" stop-color="rgb(20,20,0)"/><stop offset="0.7667" stop-color="rgb(20,20,0)"/><stop offset="0.7667" stop-color="rgb(92,92,0)"/><stop offset="0.7714" stop-color="rgb(92,92,0)"/><stop offset="0.7714" stop-color="rgb(110,110,0)"/><stop offset="0.7810" stop-color="rgb(110,110,0)"/><stop offset="0.7810" stop-color="rgb(91,91,0)"/><stop offset="0.7857" stop-color="rgb(91,91,0)"/><stop offset="0.7857" stop-color="rgb(81,81,0)"/><stop offset="0.7905" stop-color="rgb(81,81,0)"/><stop offset="0.7905" stop-color="rgb(95,95,0)"/><stop offset="0.7952" stop-color="rgb(95,95,0)"/><stop offset="0.7952" stop-color="rgb(109,109,0)"/><stop offset="0.8000" stop-color="rgb(109,109,0)"/><stop offset="0.8000" stop-color="rgb(19,19,0)"/><stop offset="0.8048" stop-color="rgb(19,19,0)"/><stop offset="0.8048" stop-color="rgb(50,50,0)"/><stop offset="0.8095" stop-color="rgb(50,50,0)"/><stop offset="0.8095" stop-color="rgb(109,109,0)"/><stop offset="0.8190" stop-color="rgb(109,109,0)"/><stop offset="0.8190" stop-color="rgb(94,94,0)"/><stop offset="0.8238" stop-color="rgb(94,94,0)"/><stop offset="0.8238" stop-color="rgb(125,125,0)"/><stop offset="0.8286" stop-color="rgb(125,125,0)"/><stop offset="0.8286" stop-color="rgb(52,52,0)"/><stop offset="0.8333" stop-color="rgb(52,52,0)"/><stop offset="0.8333" stop-color="rgb(28,28,0)"/><stop offset="0.8381" stop-color="rgb(28,28,0)"/><stop offset="0.8381" stop-color="rgb(63,63,0)"/><stop offset="0.8429" stop-color="rgb(63,63,0)"/><stop offset="0.8429" stop-color="rgb(43,43,0)"/><stop offset="0.8476" stop-color="rgb(43,43,0)"/><stop offset="0.8476" stop-color="rgb(117,117,0)"/><stop offset="0.8524" stop-color="rgb(117,117,0)"/><stop offset="0.8524" stop-color="rgb(101,101,0)"/><stop offset="0.8571" stop-color="rgb(101,101,0)"/><stop offset="0.8571" stop-color="rgb(86,86,0)"/><stop offset="0.8619" stop-color="rgb(86,86,0)"/><stop offset="0.8619" stop-color="rgb(95,95,0)"/><stop offset="0.8667" stop-color="rgb(95,95,0)"/><stop offset="0.8667" stop-color="rgb(83,83,0)"/><stop offset="0.8714" stop-color="rgb(83,83,0)"/><stop offset="0.8714" stop-color="rgb(37,37,0)"/><stop offset="0.8762" stop-color="rgb(37,37,0)"/><stop offset="0.8762" stop-color="rgb(47,47,0)"/><stop offset="0.8810" stop-color="rgb(47,47,0)"/><stop offset="0.8810" stop-color="rgb(57,57,0)"/><stop offset="0.8857" stop-color="rgb(57,57,0)"/><stop offset="0.8857" stop-color="rgb(43,43,0)"/><stop offset="0.8905" stop-color="rgb(43,43,0)"/><stop offset="0.8905" stop-color="rgb(40,40,0)"/><stop offset="0.8952" stop-color="rgb(40,40,0)"/><stop offset="0.8952" stop-color="rgb(33,33,0)"/><stop offset="0.9000" stop-color="rgb(33,33,0)"/><stop offset="0.9000" stop-color="rgb(50,50,0)"/><stop offset="0.9048" stop-color="rgb(50,50,0)"/><stop offset="0.9048" stop-color="rgb(46,46,0)"/><stop offset="0.9095" stop-color="rgb(46,46,0)"/><stop offset="0.9095" stop-color="rgb(56,56,0)"/><stop offset="0.9143" stop-color="rgb(56,56,0)"/><stop offset="0.9143" stop-color="rgb(47,47,0)"/><stop offset="0.9190" stop-color="rgb(47,47,0)"/><stop offset="0.9190" stop-color="rgb(74,74,0)"/><stop offset="0.9238" stop-color="rgb(74,74,0)"/><stop offset="0.9238" stop-color="rgb(17,17,0)"/><stop offset="0.9286" stop-color="rgb(17,17,0)"/><stop offset="0.9286" stop-color="rgb(41,41,0)"/><stop offset="0.9333" stop-color="rgb(41,41,0)"/><stop offset="0.9333" stop-color="rgb(50,50,0)"/><stop offset="0.9381" stop-color="rgb(50,50,0)"/><stop offset="0.9381" stop-color="rgb(55,55,0)"/><stop offset="0.9429" stop-color="rgb(55,55,0)"/><stop offset="0.9429" stop-color="rgb(18,18,0)"/><stop offset="0.9476" stop-color="rgb(18,18,0)"/><stop offset="0.9476" stop-color="rgb(23,23,0)"/><stop offset="0.9524" stop-color="rgb(23,23,0)"/><stop offset="0.9524" stop-color="rgb(41,41,0)"/><stop offset="0.9571" stop-color="rgb(41,41,0)"/><stop offset="0.9571" stop-color="rgb(61,61,0)"/><stop offset="0.9619" stop-color="rgb(61,61,0)"/><stop offset="0.9619" stop-color="rgb(117,117,0)"/><stop offset="0.9667" stop-color="rgb(117,117,0)"/><stop offset="0.9667" stop-color="rgb(82,82,0)"/><stop offset="0.9714" stop-color="rgb(82,82,0)"/><stop offset="0.9714" stop-color="rgb(112,112,0)"/><stop offset="0.9762" stop-color="rgb(112,112,0)"/><stop offset="0.9762" stop-color="rgb(133,133,0)"/><stop offset="0.9810" stop-color="rgb(133,133,0)"/><stop offset="0.9810" stop-color="rgb(78,78,0)"/><stop offset="0.9857" stop-color="rgb(78,78,0)"/><stop offset="0.9857" stop-color="rgb(61,61,0)"/><stop offset="0.9905" stop-color="rgb(61,61,0)"/><stop offset="0.9905" stop-color="rgb(66,66,0)"/><stop offset="0.9952" stop-color="rgb(66,66,0)"/><stop offset="0.9952" stop-color="rgb(56,56,0)"/><stop offset="1" stop-color="rgb(56,56,0)"/></linearGradient>
<filter id="hf0" x="0" y="0" width="100%" height="100%" color-interpolation-filters="sRGB">
<feTurbulence type="fractalNoise" baseFrequency="0.6 0.4" numOctaves="2" seed="3" result="n"/>
<feColorMatrix in="n" type="matrix" values="1 0 0 0 0 0.5 0.5 0 0 0 0 0 1 0 0 0 0 0 0 1" result="n2"/>
<feComposite in="n2" in2="SourceGraphic" operator="arithmetic" k1="0" k2="1.35" k3="1.1" k4="-0.7080" result="s"/>
<feColorMatrix in="s" type="matrix" values="1.45 0 0 0 -0.7250 0 -1.25 0 0 0.6250 0 0 0 0 0 0 0 0 0 1" result="c"/>
<feColorMatrix in="c" type="matrix" values="1 0.1 0 0 0.015 0.12 1 0 0 0.015 0.06 0.18 0 0 0.02 0 0 0 0 1" result="c2"/>
<feGaussianBlur in="c2" stdDeviation="0.35"/>
<feColorMatrix type="matrix" values="1 0 0 0 0 0 1 0 0 0 0 0 1 0 0 0 0 0 0 1"/>
</filter>
<clipPath id="hc0"><rect x="165" y="107" width="264.50" height="12"/></clipPath>
<filter id="hf1" x="0" y="0" width="100%" height="100%" color-interpolation-filters="sRGB">
<feTurbulence type="fractalNoise" baseFrequency="0.6 0.4" numOctaves="2" seed="4" result="n"/>
<feColorMatrix in="n" type="matrix" values="1 0 0 0 0 0.5 0.5 0 0 0 0 0 1 0 0 0 0 0 0 1" result="n2"/>
<feComposite in="n2" in2="SourceGraphic" operator="arithmetic" k1="0" k2="1.35" k3="1.06" k4="-0.6940" result="s"/>
<feColorMatrix in="s" type="matrix" values="1.45 0 0 0 -0.7250 0 -1.25 0 0 0.6250 0 0 0 0 0 0 0 0 0 1" result="c"/>
<feColorMatrix in="c" type="matrix" values="1 0.1 0 0 0.015 0.12 1 0 0 0.015 0.06 0.18 0 0 0.02 0 0 0 0 1" result="c2"/>
<feGaussianBlur in="c2" stdDeviation="0.35"/>
<feColorMatrix type="matrix" values="1 0 0 0 0 0 1 0 0 0 0 0 1 0 0 0 0 0 0 1"/>
</filter>
<clipPath id="hc1"><rect x="165" y="119" width="264.50" height="13"/></clipPath>
<filter id="hf2" x="0" y="0" width="100%" height="100%" color-interpolation-filters="sRGB">
<feTurbulence type="fractalNoise" baseFrequency="0.6 0.4" numOctaves="2" seed="5" result="n"/>
<feColorMatrix in="n" type="matrix" values="1 0 0 0 0 0.5 0.5 0 0 0 0 0 1 0 0 0 0 0 0 1" result="n2"/>
<feComposite in="n2" in2="SourceGraphic" operator="arithmetic" k1="0" k2="1.35" k3="1.019" k4="-0.6785" result="s"/>
<feColorMatrix in="s" type="matrix" values="1.45 0 0 0 -0.7250 0 -1.25 0 0 0.6250 0 0 0 0 0 0 0 0 0 1" result="c"/>
<feColorMatrix in="c" type="matrix" values="1 0.1 0 0 0.015 0.12 1 0 0 0.015 0.06 0.18 0 0 0.02 0 0 0 0 1" result="c2"/>
<feGaussianBlur in="c2" stdDeviation="0.35"/>
<feColorMatrix type="matrix" values="1 0 0 0 0 0 1 0 0 0 0 0 1 0 0 0 0 0 0 1"/>
</filter>
<clipPath id="hc2"><rect x="165" y="132" width="264.50" height="12"/></clipPath>
<filter id="hf3" x="0" y="0" width="100%" height="100%" color-interpolation-filters="sRGB">
<feTurbulence type="fractalNoise" baseFrequency="0.6 0.4" numOctaves="2" seed="6" result="n"/>
<feColorMatrix in="n" type="matrix" values="1 0 0 0 0 0.5 0.5 0 0 0 0 0 1 0 0 0 0 0 0 1" result="n2"/>
<feComposite in="n2" in2="SourceGraphic" operator="arithmetic" k1="0" k2="1.35" k3="0.979" k4="-0.6645" result="s"/>
<feColorMatrix in="s" type="matrix" values="1.45 0 0 0 -0.7250 0 -1.25 0 0 0.6250 0 0 0 0 0 0 0 0 0 1" result="c"/>
<feColorMatrix in="c" type="matrix" values="1 0.1 0 0 0.015 0.12 1 0 0 0.015 0.06 0.18 0 0 0.02 0 0 0 0 1" result="c2"/>
<feGaussianBlur in="c2" stdDeviation="0.35"/>
<feColorMatrix type="matrix" values="1 0 0 0 0 0 1 0 0 0 0 0 1 0 0 0 0 0 0 1"/>
</filter>
<clipPath id="hc3"><rect x="165" y="144" width="264.50" height="13"/></clipPath>
<filter id="hf4" x="0" y="0" width="100%" height="100%" color-interpolation-filters="sRGB">
<feTurbulence type="fractalNoise" baseFrequency="0.6 0.4" numOctaves="2" seed="7" result="n"/>
<feColorMatrix in="n" type="matrix" values="1 0 0 0 0 0.5 0.5 0 0 0 0 0 1 0 0 0 0 0 0 1" result="n2"/>
<feComposite in="n2" in2="SourceGraphic" operator="arithmetic" k1="0" k2="1.35" k3="0.959" k4="-0.6655" result="s"/>
<feColorMatrix in="s" type="matrix" values="1.45 0 0 0 -0.7250 0 -1.25 0 0 0.6250 0 0 0 0 0 0 0 0 0 1" result="c"/>
<feColorMatrix in="c" type="matrix" values="1 0.1 0 0 0.015 0.12 1 0 0 0.015 0.06 0.18 0 0 0.02 0 0 0 0 1" result="c2"/>
<feGaussianBlur in="c2" stdDeviation="0.35"/>
<feColorMatrix type="matrix" values="1 0 0 0 0 0 1 0 0 0 0 0 1 0 0 0 0 0 0 1"/>
</filter>
<clipPath id="hc4"><rect x="165" y="157" width="264.50" height="12"/></clipPath>
<filter id="hf5" x="0" y="0" width="100%" height="100%" color-interpolation-filters="sRGB">
<feTurbulence type="fractalNoise" baseFrequency="0.6 0.4" numOctaves="2" seed="8" result="n"/>
<feColorMatrix in="n" type="matrix" values="1 0 0 0 0 0.5 0.5 0 0 0 0 0 1 0 0 0 0 0 0 1" result="n2"/>
<feComposite in="n2" in2="SourceGraphic" operator="arithmetic" k1="0" k2="1.35" k3="0.94" k4="-0.6670" result="s"/>
<feColorMatrix in="s" type="matrix" values="1.45 0 0 0 -0.7250 0 -1.25 0 0 0.6250 0 0 0 0 0 0 0 0 0 1" result="c"/>
<feColorMatrix in="c" type="matrix" values="1 0.1 0 0 0.015 0.12 1 0 0 0.015 0.06 0.18 0 0 0.02 0 0 0 0 1" result="c2"/>
<feGaussianBlur in="c2" stdDeviation="0.35"/>
<feColorMatrix type="matrix" values="1 0 0 0 0 0 1 0 0 0 0 0 1 0 0 0 0 0 0 1"/>
</filter>
<clipPath id="hc5"><rect x="165" y="169" width="264.50" height="12"/></clipPath>
<filter id="hf6" x="0" y="0" width="100%" height="100%" color-interpolation-filters="sRGB">
<feTurbulence type="fractalNoise" baseFrequency="0.6 0.4" numOctaves="2" seed="9" result="n"/>
<feColorMatrix in="n" type="matrix" values="1 0 0 0 0 0.5 0.5 0 0 0 0 0 1 0 0 0 0 0 0 1" result="n2"/>
<feComposite in="n2" in2="SourceGraphic" operator="arithmetic" k1="0" k2="1.35" k3="0.92" k4="-0.6670" result="s"/>
<feColorMatrix in="s" type="matrix" values="1.45 0 0 0 -0.7250 0 -1.25 0 0 0.6250 0 0 0 0 0 0 0 0 0 1" result="c"/>
<feColorMatrix in="c" type="matrix" values="1 0.1 0 0 0.015 0.12 1 0 0 0.015 0.06 0.18 0 0 0.02 0 0 0 0 1" result="c2"/>
<feGaussianBlur in="c2" stdDeviation="0.35"/>
<feColorMatrix type="matrix" values="1 0 0 0 0 0 1 0 0 0 0 0 1 0 0 0 0 0 0 1"/>
</filter>
<clipPath id="hc6"><rect x="165" y="181" width="264.50" height="13"/></clipPath>
<filter id="hf7" x="0" y="0" width="100%" height="100%" color-interpolation-filters="sRGB">
<feTurbulence type="fractalNoise" baseFrequency="0.6 0.4" numOctaves="2" seed="10" result="n"/>
<feColorMatrix in="n" type="matrix" values="1 0 0 0 0 0.5 0.5 0 0 0 0 0 1 0 0 0 0 0 0 1" result="n2"/>
<feComposite in="n2" in2="SourceGraphic" operator="arithmetic" k1="0" k2="1.35" k3="0.9" k4="-0.6680" result="s"/>
<feColorMatrix in="s" type="matrix" values="1.45 0 0 0 -0.7250 0 -1.25 0 0 0.6250 0 0 0 0 0 0 0 0 0 1" result="c"/>
<feColorMatrix in="c" type="matrix" values="1 0.1 0 0 0.015 0.12 1 0 0 0.015 0.06 0.18 0 0 0.02 0 0 0 0 1" result="c2"/>
<feGaussianBlur in="c2" stdDeviation="0.35"/>
<feColorMatrix type="matrix" values="1 0 0 0 0 0 1 0 0 0 0 0 1 0 0 0 0 0 0 1"/>
</filter>
<clipPath id="hc7"><rect x="165" y="194" width="264.50" height="12"/></clipPath>
<filter id="hf8" x="0" y="0" width="100%" height="100%" color-interpolation-filters="sRGB">
<feTurbulence type="fractalNoise" baseFrequency="0.6 0.4" numOctaves="2" seed="11" result="n"/>
<feColorMatrix in="n" type="matrix" values="1 0 0 0 0 0.5 0.5 0 0 0 0 0 1 0 0 0 0 0 0 1" result="n2"/>
<feComposite in="n2" in2="SourceGraphic" operator="arithmetic" k1="0" k2="1.35" k3="0.88" k4="-0.6690" result="s"/>
<feColorMatrix in="s" type="matrix" values="1.45 0 0 0 -0.7250 0 -1.25 0 0 0.6250 0 0 0 0 0 0 0 0 0 1" result="c"/>
<feColorMatrix in="c" type="matrix" values="1 0.1 0 0 0.015 0.12 1 0 0 0.015 0.06 0.18 0 0 0.02 0 0 0 0 1" result="c2"/>
<feGaussianBlur in="c2" stdDeviation="0.35"/>
<feColorMatrix type="matrix" values="1 0 0 0 0 0 1 0 0 0 0 0 1 0 0 0 0 0 0 1"/>
</filter>
<clipPath id="hc8"><rect x="165" y="206" width="264.50" height="13"/></clipPath>
<filter id="hf9" x="0" y="0" width="100%" height="100%" color-interpolation-filters="sRGB">
<feTurbulence type="fractalNoise" baseFrequency="0.6 0.4" numOctaves="2" seed="12" result="n"/>
<feColorMatrix in="n" type="matrix" values="1 0 0 0 0 0.5 0.5 0 0 0 0 0 1 0 0 0 0 0 0 1" result="n2"/>
<feComposite in="n2" in2="SourceGraphic" operator="arithmetic" k1="0" k2="1.35" k3="0.86" k4="-0.6700" result="s"/>
<feColorMatrix in="s" type="matrix" values="1.45 0 0 0 -0.7250 0 -1.25 0 0 0.6250 0 0 0 0 0 0 0 0 0 1" result="c"/>
<feColorMatrix in="c" type="matrix" values="1 0.1 0 0 0.015 0.12 1 0 0 0.015 0.06 0.18 0 0 0.02 0 0 0 0 1" result="c2"/>
<feGaussianBlur in="c2" stdDeviation="0.35"/>
<feColorMatrix type="matrix" values="1 0 0 0 0 0 1 0 0 0 0 0 1 0 0 0 0 0 0 1"/>
</filter>
<clipPath id="hc9"><rect x="165" y="219" width="264.50" height="12"/></clipPath>
<filter id="hf10" x="0" y="0" width="100%" height="100%" color-interpolation-filters="sRGB">
<feTurbulence type="fractalNoise" baseFrequency="0.6 0.4" numOctaves="2" seed="13" result="n"/>
<feColorMatrix in="n" type="matrix" values="1 0 0 0 0 0.5 0.5 0 0 0 0 0 1 0 0 0 0 0 0 1" result="n2"/>
<feComposite in="n2" in2="SourceGraphic" operator="arithmetic" k1="0" k2="1.35" k3="0.903" k4="-0.6015" result="s"/>
<feColorMatrix in="s" type="matrix" values="1.45 0 0 0 -0.7250 0 -1.25 0 0 0.6250 0 0 0 0 0 0 0 0 0 1" result="c"/>
<feColorMatrix in="c" type="matrix" values="1 0.1 0 0 0.015 0.12 1 0 0 0.015 0.06 0.18 0 0 0.02 0 0 0 0 1" result="c2"/>
<feGaussianBlur in="c2" stdDeviation="0.35"/>
<feColorMatrix type="matrix" values="1 0 0 0 0 0 1 0 0 0 0 0 1 0 0 0 0 0 0 1"/>
</filter>
<clipPath id="hc10"><rect x="165" y="231" width="264.50" height="16"/></clipPath>
<filter id="hf11" x="0" y="0" width="100%" height="100%" color-interpolation-filters="sRGB">
<feTurbulence type="fractalNoise" baseFrequency="0.6 0.4" numOctaves="2" seed="14" result="n"/>
<feColorMatrix in="n" type="matrix" values="1 0 0 0 0 0.5 0.5 0 0 0 0 0 1 0 0 0 0 0 0 1" result="n2"/>
<feComposite in="n2" in2="SourceGraphic" operator="arithmetic" k1="0" k2="1.35" k3="0.909" k4="-0.6145" result="s"/>
<feColorMatrix in="s" type="matrix" values="1.45 0 0 0 -0.7250 0 -1.25 0 0 0.6250 0 0 0 0 0 0 0 0 0 1" result="c"/>
<feColorMatrix in="c" type="matrix" values="1 0.1 0 0 0.015 0.12 1 0 0 0.015 0.06 0.18 0 0 0.02 0 0 0 0 1" result="c2"/>
<feGaussianBlur in="c2" stdDeviation="0.35"/>
<feColorMatrix type="matrix" values="1 0 0 0 0 0 1 0 0 0 0 0 1 0 0 0 0 0 0 1"/>
</filter>
<clipPath id="hc11"><rect x="165" y="247" width="264.50" height="16"/></clipPath>
<filter id="hf12" x="0" y="0" width="100%" height="100%" color-interpolation-filters="sRGB">
<feTurbulence type="fractalNoise" baseFrequency="0.6 0.4" numOctaves="2" seed="15" result="n"/>
<feColorMatrix in="n" type="matrix" values="1 0 0 0 0 0.5 0.5 0 0 0 0 0 1 0 0 0 0 0 0 1" result="n2"/>
<feComposite in="n2" in2="SourceGraphic" operator="arithmetic" k1="0" k2="1.35" k3="0.916" k4="-0.6280" result="s"/>
<feColorMatrix in="s" type="matrix" values="1.45 0 0 0 -0.7250 0 -1.25 0 0 0.6250 0 0 0 0 0 0 0 0 0 1" result="c"/>
<feColorMatrix in="c" type="matrix" values="1 0.1 0 0 0.015 0.12 1 0 0 0.015 0.06 0.18 0 0 0.02 0 0 0 0 1" result="c2"/>
<feGaussianBlur in="c2" stdDeviation="0.35"/>
<feColorMatrix type="matrix" values="1 0 0 0 0 0 1 0 0 0 0 0 1 0 0 0 0 0 0 1"/>
</filter>
<clipPath id="hc12"><rect x="165" y="263" width="264.50" height="17"/></clipPath>
<filter id="hf13" x="0" y="0" width="100%" height="100%" color-interpolation-filters="sRGB">
<feTurbulence type="fractalNoise" baseFrequency="0.6 0.4" numOctaves="2" seed="16" result="n"/>
<feColorMatrix in="n" type="matrix" values="1 0 0 0 0 0.5 0.5 0 0 0 0 0 1 0 0 0 0 0 0 1" result="n2"/>
<feComposite in="n2" in2="SourceGraphic" operator="arithmetic" k1="0" k2="1.35" k3="0.922" k4="-0.6380" result="s"/>
<feColorMatrix in="s" type="matrix" values="1.45 0 0 0 -0.7250 0 -1.25 0 0 0.6250 0 0 0 0 0 0 0 0 0 1" result="c"/>
<feColorMatrix in="c" type="matrix" values="1 0.1 0 0 0.015 0.12 1 0 0 0.015 0.06 0.18 0 0 0.02 0 0 0 0 1" result="c2"/>
<feGaussianBlur in="c2" stdDeviation="0.35"/>
<feColorMatrix type="matrix" values="1 0 0 0 0 0 1 0 0 0 0 0 1 0 0 0 0 0 0 1"/>
</filter>
<clipPath id="hc13"><rect x="165" y="280" width="264.50" height="16"/></clipPath>
<filter id="hf14" x="0" y="0" width="100%" height="100%" color-interpolation-filters="sRGB">
<feTurbulence type="fractalNoise" baseFrequency="0.6 0.4" numOctaves="2" seed="17" result="n"/>
<feColorMatrix in="n" type="matrix" values="1 0 0 0 0 0.5 0.5 0 0 0 0 0 1 0 0 0 0 0 0 1" result="n2"/>
<feComposite in="n2" in2="SourceGraphic" operator="arithmetic" k1="0" k2="1.35" k3="0.928" k4="-0.6450" result="s"/>
<feColorMatrix in="s" type="matrix" values="1.45 0 0 0 -0.7250 0 -1.25 0 0 0.6250 0 0 0 0 0 0 0 0 0 1" result="c"/>
<feColorMatrix in="c" type="matrix" values="1 0.1 0 0 0.015 0.12 1 0 0 0.015 0.06 0.18 0 0 0.02 0 0 0 0 1" result="c2"/>
<feGaussianBlur in="c2" stdDeviation="0.35"/>
<feColorMatrix type="matrix" values="1 0 0 0 0 0 1 0 0 0 0 0 1 0 0 0 0 0 0 1"/>
</filter>
<clipPath id="hc14"><rect x="165" y="296" width="264.50" height="16"/></clipPath>
<filter id="hf15" x="0" y="0" width="100%" height="100%" color-interpolation-filters="sRGB">
<feTurbulence type="fractalNoise" baseFrequency="0.6 0.4" numOctaves="2" seed="18" result="n"/>
<feColorMatrix in="n" type="matrix" values="1 0 0 0 0 0.5 0.5 0 0 0 0 0 1 0 0 0 0 0 0 1" result="n2"/>
<feComposite in="n2" in2="SourceGraphic" operator="arithmetic" k1="0" k2="1.35" k3="0.934" k4="-0.6520" result="s"/>
<feColorMatrix in="s" type="matrix" values="1.45 0 0 0 -0.7250 0 -1.25 0 0 0.6250 0 0 0 0 0 0 0 0 0 1" result="c"/>
<feColorMatrix in="c" type="matrix" values="1 0.1 0 0 0.015 0.12 1 0 0 0.015 0.06 0.18 0 0 0.02 0 0 0 0 1" result="c2"/>
<feGaussianBlur in="c2" stdDeviation="0.35"/>
<feColorMatrix type="matrix" values="1 0 0 0 0 0 1 0 0 0 0 0 1 0 0 0 0 0 0 1"/>
</filter>
<clipPath id="hc15"><rect x="165" y="312" width="264.50" height="16"/></clipPath>
<filter id="hf16" x="0" y="0" width="100%" height="100%" color-interpolation-filters="sRGB">
<feTurbulence type="fractalNoise" baseFrequency="0.6 0.4" numOctaves="2" seed="19" result="n"/>
<feColorMatrix in="n" type="matrix" values="1 0 0 0 0 0.5 0.5 0 0 0 0 0 1 0 0 0 0 0 0 1" result="n2"/>
<feComposite in="n2" in2="SourceGraphic" operator="arithmetic" k1="0" k2="1.35" k3="0.941" k4="-0.6595" result="s"/>
<feColorMatrix in="s" type="matrix" values="1.45 0 0 0 -0.7250 0 -1.25 0 0 0.6250 0 0 0 0 0 0 0 0 0 1" result="c"/>
<feColorMatrix in="c" type="matrix" values="1 0.1 0 0 0.015 0.12 1 0 0 0.015 0.06 0.18 0 0 0.02 0 0 0 0 1" result="c2"/>
<feGaussianBlur in="c2" stdDeviation="0.35"/>
<feColorMatrix type="matrix" values="1 0 0 0 0 0 1 0 0 0 0 0 1 0 0 0 0 0 0 1"/>
</filter>
<clipPath id="hc16"><rect x="165" y="328" width="264.50" height="16"/></clipPath>
<filter id="hf17" x="0" y="0" width="100%" height="100%" color-interpolation-filters="sRGB">
<feTurbulence type="fractalNoise" baseFrequency="0.6 0.4" numOctaves="2" seed="20" result="n"/>
<feColorMatrix in="n" type="matrix" values="1 0 0 0 0 0.5 0.5 0 0 0 0 0 1 0 0 0 0 0 0 1" result="n2"/>
<feComposite in="n2" in2="SourceGraphic" operator="arithmetic" k1="0" k2="1.35" k3="0.947" k4="-0.6665" result="s"/>
<feColorMatrix in="s" type="matrix" values="1.45 0 0 0 -0.7250 0 -1.25 0 0 0.6250 0 0 0 0 0 0 0 0 0 1" result="c"/>
<feColorMatrix in="c" type="matrix" values="1 0.1 0 0 0.015 0.12 1 0 0 0.015 0.06 0.18 0 0 0.02 0 0 0 0 1" result="c2"/>
<feGaussianBlur in="c2" stdDeviation="0.35"/>
<feColorMatrix type="matrix" values="1 0 0 0 0 0 1 0 0 0 0 0 1 0 0 0 0 0 0 1"/>
</filter>
<clipPath id="hc17"><rect x="165" y="344" width="264.50" height="16.5"/></clipPath>
</defs>
<rect width="520" height="388" fill="#fff"/>
<!-- axes -->
<g stroke="#333" stroke-width="1" fill="none">
<path d="M155.5 5 V91.5"/>
<path d="M155 91.5 H430" stroke="#888"/>
<path d="M149 19.3 H155.5 M149 44.3 H155.5 M149 69.5 H155.5"/>
</g>
<g font-size="11.2" fill="#1a1a1a" text-anchor="end">
<text x="145.6" y="16">8.5</text>
<text x="145.6" y="40.3">8.0</text>
<text x="145.6" y="65.9">7.5</text>
</g>
<text transform="translate(122.6 42.4) rotate(-90)" font-size="11.9" fill="#222" text-anchor="middle">log<tspan font-size="8" dy="2.5">2</tspan><tspan dy="-2.5"> expression</tspan></text>
<!-- curve -->
<path d="M167.0 79.2 L170.3 73.6 L176.5 72.8 L188.0 70.3 L199.6 67.7 L211.1 66.2 L222.7 65.1 L233.5 64.5 L246.9 63.2 L260.4 61.4 L273.8 59.8 L287.3 58.1 L298.5 56.5 L311.9 55.2 L325.4 53.8 L332.1 52.4 L338.8 51.4 L352.3 49.9 L363.5 48.8 L370.2 46.4 L376.9 44.2 L383.6 42.8 L390.4 40.4 L397.1 38.8 L403.8 37.4 L410.6 35.4 L414.6 33.6 L418.0 31.6 L420.6 29.6" stroke="#000" stroke-width="3.8" fill="none" stroke-linecap="round" stroke-linejoin="round"/>
<ellipse cx="165.9" cy="88.4" rx="2.6" ry="2" fill="#000"/>
<g stroke="#000" stroke-width="4" stroke-linecap="round">
<path d="M420.2 26.6 L422.8 25"/>
<path d="M423.4 19.3 L426.6 15.6"/>
<path d="M427.4 9.7 L429.4 7.6"/>
</g>
<!-- LEF1 bar -->
<rect x="165.0" y="92.5" width="5.3" height="10" fill="#2aee2a"/><rect x="170.0" y="92.5" width="12.3" height="10" fill="#16cc16"/><rect x="182.0" y="92.5" width="19.3" height="10" fill="#11b311"/><rect x="201.0" y="92.5" width="42.3" height="10" fill="#0d9c0d"/><rect x="243.0" y="92.5" width="28.3" height="10" fill="#0a820a"/><rect x="271.0" y="92.5" width="26.3" height="10" fill="#076a07"/><rect x="297.0" y="92.5" width="32.8" height="10" fill="#054a05"/><rect x="329.5" y="92.5" width="33.2" height="10" fill="#032c03"/><rect x="362.4" y="92.5" width="9.9" height="10" fill="#120404"/><rect x="372.0" y="92.5" width="8.3" height="10" fill="#380606"/><rect x="380.0" y="92.5" width="8.3" height="10" fill="#4a0808"/><rect x="388.0" y="92.5" width="8.3" height="10" fill="#600a0a"/><rect x="396.0" y="92.5" width="6.3" height="10" fill="#740c0c"/><rect x="402.0" y="92.5" width="7.3" height="10" fill="#8c0e0e"/><rect x="409.0" y="92.5" width="7.1" height="10" fill="#a01010"/><rect x="415.8" y="92.5" width="6.0" height="10" fill="#c81a10"/><rect x="421.5" y="92.5" width="3.8" height="10" fill="#f82a10"/><rect x="425.0" y="92.5" width="4.6" height="10" fill="#ff3410"/>
<!-- heatmap -->
<g clip-path="url(#hc0)"><rect x="162" y="104" width="270.50" height="18" fill="url(#gt)" filter="url(#hf0)"/></g>
<g clip-path="url(#hc1)"><rect x="162" y="116" width="270.50" height="19" fill="url(#gt)" filter="url(#hf1)"/></g>
<g clip-path="url(#hc2)"><rect x="162" y="129" width="270.50" height="18" fill="url(#gt)" filter="url(#hf2)"/></g>
<g clip-path="url(#hc3)"><rect x="162" y="141" width="270.50" height="19" fill="url(#gt)" filter="url(#hf3)"/></g>
<g clip-path="url(#hc4)"><rect x="162" y="154" width="270.50" height="18" fill="url(#gt)" filter="url(#hf4)"/></g>
<g clip-path="url(#hc5)"><rect x="162" y="166" width="270.50" height="18" fill="url(#gt)" filter="url(#hf5)"/></g>
<g clip-path="url(#hc6)"><rect x="162" y="178" width="270.50" height="19" fill="url(#gt)" filter="url(#hf6)"/></g>
<g clip-path="url(#hc7)"><rect x="162" y="191" width="270.50" height="18" fill="url(#gt)" filter="url(#hf7)"/></g>
<g clip-path="url(#hc8)"><rect x="162" y="203" width="270.50" height="19" fill="url(#gt)" filter="url(#hf8)"/></g>
<g clip-path="url(#hc9)"><rect x="162" y="216" width="270.50" height="18" fill="url(#gt)" filter="url(#hf9)"/></g>
<g clip-path="url(#hc10)"><rect x="162" y="228" width="270.50" height="22" fill="url(#gb)" filter="url(#hf10)"/></g>
<g clip-path="url(#hc11)"><rect x="162" y="244" width="270.50" height="22" fill="url(#gb)" filter="url(#hf11)"/></g>
<g clip-path="url(#hc12)"><rect x="162" y="260" width="270.50" height="23" fill="url(#gb)" filter="url(#hf12)"/></g>
<g clip-path="url(#hc13)"><rect x="162" y="277" width="270.50" height="22" fill="url(#gb)" filter="url(#hf13)"/></g>
<g clip-path="url(#hc14)"><rect x="162" y="293" width="270.50" height="22" fill="url(#gb)" filter="url(#hf14)"/></g>
<g clip-path="url(#hc15)"><rect x="162" y="309" width="270.50" height="22" fill="url(#gb)" filter="url(#hf15)"/></g>
<g clip-path="url(#hc16)"><rect x="162" y="325" width="270.50" height="22" fill="url(#gb)" filter="url(#hf16)"/></g>
<g clip-path="url(#hc17)"><rect x="162" y="341" width="270.50" height="22.5" fill="url(#gb)" filter="url(#hf17)"/></g>
<!-- lines to genes -->
<g stroke="#111" stroke-width="1.15" fill="none">
<path d="M432 110.2 L457.0 110.2 L475.0 109.0 L479 109.0"/><path d="M432 110.8 L457.4 110.8 L475.0 122.8 L479 122.8"/><path d="M432 114.6 L455.3 114.6 L475.0 136.7 L479 136.7"/><path d="M432 115.2 L453.2 115.2 L475.0 150.5 L479 150.5"/><path d="M432 119.0 L451.0 119.0 L475.0 164.4 L479 164.4"/><path d="M432 119.4 L449.5 119.4 L475.0 178.2 L479 178.2"/><path d="M432 119.8 L448.0 119.8 L474.5 192.0 L479 192.0"/><path d="M432 128.7 L448.5 128.7 L473.2 205.9 L479 205.9"/><path d="M432 134.4 L447.9 134.4 L474.1 219.7 L479 219.7"/><path d="M432 137.6 L447.0 137.6 L474.9 233.6 L479 233.6"/><path d="M432 138.0 L446.4 138.0 L471.1 247.4 L479 247.4"/><path d="M432 138.4 L443.7 138.4 L470.7 261.2 L479 261.2"/><path d="M432 138.8 L441.0 138.8 L470.9 275.1 L479 275.1"/><path d="M432 139.0 L439.0 139.0 L467.0 275.1 L479 275.1"/><path d="M432 156.9 L434.8 156.9 L469.1 288.9 L479 288.9"/><path d="M432 179.3 L433.1 179.3 L471.7 302.8 L479 302.8"/><path d="M432 190.1 L433.7 190.1 L471.9 316.6 L479 316.6"/><path d="M432 220.1 L434.3 220.1 L471.5 330.4 L479 330.4"/>
</g>
<g font-size="11.4" font-style="italic" fill="#111" stroke="#111" stroke-width="0.3">
<text x="479.5" y="113.1">TCF7</text><text x="479.5" y="126.9">CD3D</text><text x="479.5" y="140.8">GATA3</text><text x="479.5" y="154.6">CD8B</text><text x="479.5" y="168.5">CD247</text><text x="479.5" y="182.3">ITK</text><text x="479.5" y="196.1">CD8A</text><text x="479.5" y="210.0">CD28</text><text x="479.5" y="223.8">ZAP70</text><text x="479.5" y="237.7">CD2</text><text x="479.5" y="251.5">CD3E</text><text x="479.5" y="265.3">IL2RB</text><text x="479.5" y="279.2">CD3G</text><text x="479.5" y="293.0">BLK</text><text x="479.5" y="306.9">CD6</text><text x="479.5" y="320.7">CD5</text><text x="479.5" y="334.5">PAX5</text>
</g>
<!-- left texts -->
<path d="M149.5 99.6 H162.5" stroke="#222" stroke-width="1.2"/>
<g font-size="14.8" fill="#111" stroke="#111" stroke-width="0.2">
<text x="34.5" y="103.6"><tspan font-style="italic">LEF1</tspan> expression</text>
<g text-anchor="end">
<text x="145.8" y="197.8">200 genes with</text>
<text x="145.8" y="215.3">strongest correlation</text>
<text x="145.8" y="232.8">with <tspan font-style="italic">LEF1</tspan> expression</text>
</g>
<text x="221" y="382.7">210 CN-AML patients</text>
</g>
<!-- colour key -->
<rect x="38.80" y="319.6" width="4.62" height="45.4" fill="#24f21d"/><rect x="43.12" y="319.6" width="4.62" height="45.4" fill="#20d719"/><rect x="47.45" y="319.6" width="4.62" height="45.4" fill="#1cbc16"/><rect x="51.77" y="319.6" width="4.62" height="45.4" fill="#18a013"/><rect x="56.10" y="319.6" width="4.62" height="45.4" fill="#13830f"/><rect x="60.42" y="319.6" width="4.62" height="45.4" fill="#0f640c"/><rect x="64.75" y="319.6" width="4.62" height="45.4" fill="#0a4208"/><rect x="69.08" y="319.6" width="4.62" height="45.4" fill="#041b03"/><rect x="73.40" y="319.6" width="4.62" height="45.4" fill="#1b0301"/><rect x="77.72" y="319.6" width="4.62" height="45.4" fill="#420802"/><rect x="82.05" y="319.6" width="4.62" height="45.4" fill="#640c04"/><rect x="86.38" y="319.6" width="4.62" height="45.4" fill="#830f05"/><rect x="90.70" y="319.6" width="4.62" height="45.4" fill="#a01306"/><rect x="95.03" y="319.6" width="4.62" height="45.4" fill="#bc1607"/><rect x="99.35" y="319.6" width="4.62" height="45.4" fill="#d71908"/><rect x="103.67" y="319.6" width="4.62" height="45.4" fill="#f21d09"/>
<path d="M38.8 364.3 L42.0 364.3 L42.0 363.6 L49.4 363.6 L49.4 360.3 L52.6 360.3 L52.6 356.3 L57.5 356.3 L57.5 348.2 L61.0 348.2 L61.0 333.4 L65.3 333.4 L65.3 323.4 L69.3 323.4 L69.3 320.2 L73.4 320.2 L73.4 324.0 L77.0 324.0 L77.0 329.4 L80.6 329.4 L80.6 337.5 L84.0 337.5 L84.0 348.2 L87.5 348.2 L87.5 356.3 L91.5 356.3 L91.5 360.3 L95.5 360.3 L95.5 362.3 L103.0 362.3 L103.0 363.6 L107.8 363.6" stroke="#8fd0e0" stroke-opacity="0.85" stroke-width="1.2" fill="none"/>
<g stroke="#333" stroke-width="0.9" fill="none">
<path d="M34.3 322.7 H38.5 M34.3 329.6 H38.5 M34.3 336.7 H38.5 M34.3 343.8 H38.5 M34.3 351.1 H38.5 M34.3 358.2 H38.5 M34.3 365.2 H38.5"/>
<path d="M38.3 365.5 H108 M42 365.5 V369.5 M52.4 365.5 V369.5 M62.8 365.5 V369.5 M73.2 365.5 V369.5 M83.6 365.5 V369.5 M94 365.5 V369.5 M104.4 365.5 V369.5"/>
</g>
<g font-size="11.5" fill="#111" stroke="#111" stroke-width="0.2">
<text x="29" y="302.6">Gene expression</text>
<text x="40.4" y="316">low</text>
<text x="84" y="316">high</text>
</g>
<text transform="translate(19.3 341) rotate(-90)" font-size="10" fill="#111" text-anchor="middle">Count</text>
<g font-size="7.7" fill="#111" text-anchor="middle">
<text transform="translate(28.4 344) rotate(-90)">3000</text>
<text transform="translate(28.4 365) rotate(-90)">0</text>
</g>
<g font-size="8" fill="#111" text-anchor="middle">
<text x="41.5" y="381.6">-3</text>
<text x="62.3" y="381.6">-1</text>
<text x="84" y="381.6">1</text>
<text x="94.4" y="381.6">2</text>
<text x="104.8" y="381.6">3</text>
</g>
</svg>
</body></html>
